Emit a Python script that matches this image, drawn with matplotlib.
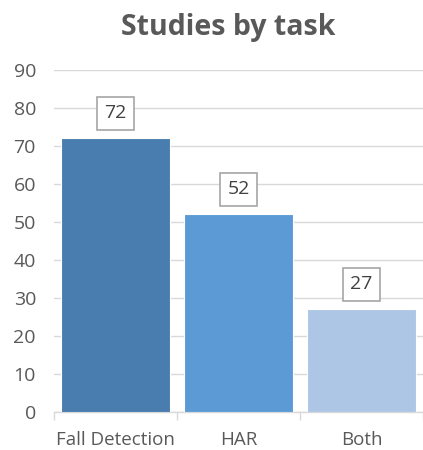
import matplotlib
matplotlib.use('Agg')
import matplotlib.pyplot as plt

# data
tasks = ["Fall Detection", "HAR", "Both"]
studies = [72, 52, 27]
barColours = ["#497DAF", "#5B9AD5", "#ADC6E5"]
yTicks = [0, 10, 20, 30, 40, 50, 60, 70, 80, 90]

textGrey = "#595959"
plt.rcParams['font.family'] = ['Open Sans', 'DejaVu Sans']

fig = plt.figure(figsize=(4.23, 4.5), dpi=100)
ax = fig.add_axes([54/423, 38/450, 369/423, 342/450])

pos = range(len(tasks))
bars = ax.bar(pos, studies, width=0.89, color=barColours, edgecolor="white", linewidth=0.8, zorder=3)

for b, v in zip(bars, studies):
	ax.annotate(str(v), (b.get_x() + b.get_width()/2, v), xytext=(0, 18), textcoords="offset points",
		ha="center", va="center", fontsize=14, color="#404040",
		bbox=dict(boxstyle="square,pad=0.37", fc="white", ec="#A6A6A6", lw=1.2), zorder=4)

ax.set_xlim(-0.5, len(tasks) - 0.5)
ax.set_ylim(0, 90)
ax.set_yticks(yTicks)
ax.set_xticks(pos)
ax.set_xticklabels(tasks)
ax.grid(axis="y", color="#D9D9D9", linewidth=1.0, zorder=0)
ax.set_axisbelow(True)

for s in ["top", "right", "left"]:
	ax.spines[s].set_visible(False)
ax.spines["bottom"].set_color("#D9D9D9")
ax.spines["bottom"].set_linewidth(1.0)

ax.tick_params(axis="y", length=0, pad=13, labelsize=14, labelcolor=textGrey)
ax.tick_params(axis="x", length=0, pad=14, labelsize=13.5, labelcolor=textGrey)
# category boundary ticks on x axis
ax.set_xticks([-0.5, 0.5, 1.5, 2.5], minor=True)
ax.tick_params(axis="x", which="minor", length=6, color="#D9D9D9", width=1.0)

fig.text(228/423, 1 - 28/450, "Studies by task", ha="center", va="center", fontsize=20.5, fontweight="bold", color=textGrey)

fig.savefig("out.png", dpi=100)
